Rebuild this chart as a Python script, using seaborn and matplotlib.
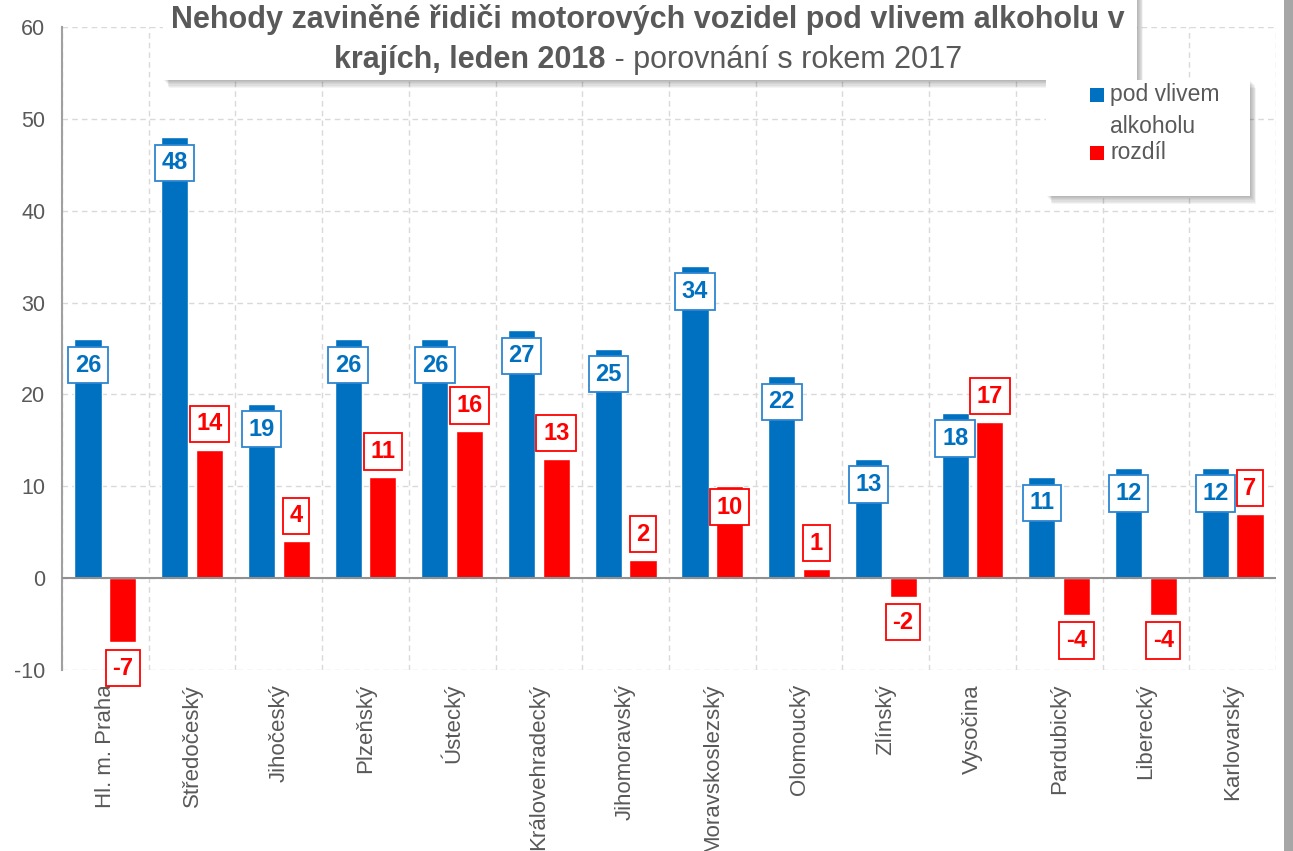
import numpy as np
import pandas as pd
import seaborn as sns
import matplotlib
matplotlib.use("Agg")
import matplotlib.pyplot as plt
from matplotlib.patches import Rectangle
import matplotlib.font_manager as fm

# ---------------- data ----------------
categories = ["Hl. m. Praha", "Středočeský", "Jihočeský", "Plzeňský", "Ústecký",
              "Královehradecký", "Jihomoravský", "Moravskoslezský", "Olomoucký",
              "Zlínský", "Vysočina", "Pardubický", "Liberecký", "Karlovarský"]
alcohol = [26, 48, 19, 26, 26, 27, 25, 34, 22, 13, 18, 11, 12, 12]
difference = [-7, 14, 4, 11, 16, 13, 2, 10, 1, -2, 17, -4, -4, 7]
series_names = ["pod vlivem alkoholu", "rozdíl"]
legend_labels = ["pod vlivem\nalkoholu", "rozdíl"]
y_ticks = [-10, 0, 10, 20, 30, 40, 50, 60]
title_line1 = "Nehody zaviněné řidiči motorových vozidel pod vlivem alkoholu v"
title_bold2 = "krajích, leden 2018"
title_norm2 = " - porovnání s rokem 2017"

BLUE = "#0070C0"
RED = "#FF0000"
GRAY_TXT = "#595959"

avail = {f.name for f in fm.fontManager.ttflist}
NARROW = "Liberation Sans Narrow" if "Liberation Sans Narrow" in avail else "Liberation Sans"

sns.set_theme(style="white")
plt.rcParams["font.family"] = [NARROW, "DejaVu Sans"]

W, H = 1293, 851
fig = plt.figure(figsize=(W / 100, H / 100), dpi=100)
fig.patch.set_facecolor("white")

def fx(px):
    return px / W

def fy(py):
    return 1 - py / H

ax = fig.add_axes([fx(62), fy(670), fx(1276) - fx(62), fy(27) - fy(670)])

df = pd.DataFrame({
    "kraj": categories * 2,
    "serie": [series_names[0]] * len(categories) + [series_names[1]] * len(categories),
    "hodnota": alcohol + difference,
})

sns.barplot(data=df, x="kraj", y="hodnota", hue="serie", order=categories,
            hue_order=series_names, palette=[BLUE, RED], saturation=1,
            width=0.8, gap=0.22, errorbar=None, legend=False, ax=ax, zorder=3)

ax.set_xlim(-0.5, len(categories) - 0.5)
ax.set_ylim(-10, 60)
ax.set_yticks(y_ticks)
ax.set_yticklabels([str(t) for t in y_ticks], fontsize=15.5, color=GRAY_TXT)
ax.set_xticks(range(len(categories)))
ax.set_xticklabels(categories, rotation=90, fontsize=16, color=GRAY_TXT, va="top", ha="center")
ax.set_xlabel("")
ax.set_ylabel("")
ax.tick_params(axis="both", length=0, pad=4)
ax.tick_params(axis="y", pad=12)
ax.tick_params(axis="x", pad=10)

ax.set_xticks(np.arange(-0.5, len(categories), 1.0), minor=True)
ax.grid(True, which="major", axis="y", color="#D9D9D9", linestyle=(0, (4, 3)), linewidth=1, zorder=0)
ax.grid(True, which="minor", axis="x", color="#D9D9D9", linestyle=(0, (4, 3)), linewidth=1, zorder=0)
ax.grid(False, which="major", axis="x")
for s in ["top", "right", "bottom"]:
    ax.spines[s].set_visible(False)
ax.spines["left"].set_color("#A0A0A0")
ax.spines["left"].set_linewidth(1.5)
ax.axhline(0, color="#909090", linewidth=1.5, zorder=4)

# ---------------- data labels ----------------
inside_red = {"Moravskoslezský"}
off = 18.5
for ci, (cont, color) in enumerate(zip(ax.containers, [BLUE, RED])):
    for i, bar in enumerate(cont):
        v = bar.get_height()
        xc = bar.get_x() + bar.get_width() / 2
        if ci == 0:
            dy = -off
            edge = "#2E86D0"
        else:
            edge = RED
            if v >= 0:
                dy = -15 if categories[i] in inside_red else off
            else:
                dy = -off
        ax.annotate(f"{int(round(v))}", xy=(xc, v), xytext=(0, dy), textcoords="offset points",
                    ha="center", va="center", fontsize=17, fontweight="bold", color=color,
                    zorder=6, annotation_clip=False,
                    bbox=dict(boxstyle="square,pad=0.28", fc="white", ec=edge, lw=1.3))

# ---------------- shadows / boxes ----------------
def soft_box(x0, y0, x1, y1, z=10):
    # x0,y0 top-left, x1,y1 bottom-right in pixel coords
    for k in range(7, 0, -1):
        fig.patches.append(Rectangle((fx(x0 + k * 0.9), fy(y1 + k * 1.1)),
                                     fx(x1 - x0), fy(y0) - fy(y1),
                                     transform=fig.transFigure, fc="black",
                                     alpha=0.045, ec="none", zorder=z))
    fig.patches.append(Rectangle((fx(x0), fy(y1)), fx(x1 - x0), fy(y0) - fy(y1),
                                 transform=fig.transFigure, fc="white", ec="none", zorder=z + 1))

soft_box(163, -20, 1137, 80)
soft_box(1046, 80, 1250, 196)

# right border band
fig.patches.append(Rectangle((fx(1284), 0), fx(9), 1, transform=fig.transFigure,
                             fc="#A6A6A6", ec="none", zorder=12))

# ---------------- title ----------------
fig.text(fx(648), fy(28), title_line1, ha="center", va="baseline", fontsize=22,
         fontweight="bold", color=GRAY_TXT, zorder=20)
t_b = fig.text(0, fy(68), title_bold2, ha="left", va="baseline", fontsize=22,
               fontweight="bold", color=GRAY_TXT, zorder=20)
t_n = fig.text(0, fy(68), title_norm2, ha="left", va="baseline", fontsize=22,
               color=GRAY_TXT, zorder=20)
fig.canvas.draw()
r = fig.canvas.get_renderer()
wb = t_b.get_window_extent(r).width
wn = t_n.get_window_extent(r).width
start = 648 - (wb + wn) / 2
t_b.set_x(fx(start))
t_n.set_x(fx(start + wb))

# ---------------- legend ----------------
for lab, col, ytop in zip(legend_labels, [BLUE, RED], [88, 146]):
    fig.patches.append(Rectangle((fx(1090), fy(ytop + 14)), fx(14), fy(ytop) - fy(ytop + 14),
                                 transform=fig.transFigure, fc=col, ec="none", zorder=20))
    fig.text(fx(1110), fy(ytop - 5), lab, ha="left", va="top", fontsize=16.5,
             color=GRAY_TXT, zorder=20, linespacing=1.5)

fig.savefig("out.png", dpi=100)
